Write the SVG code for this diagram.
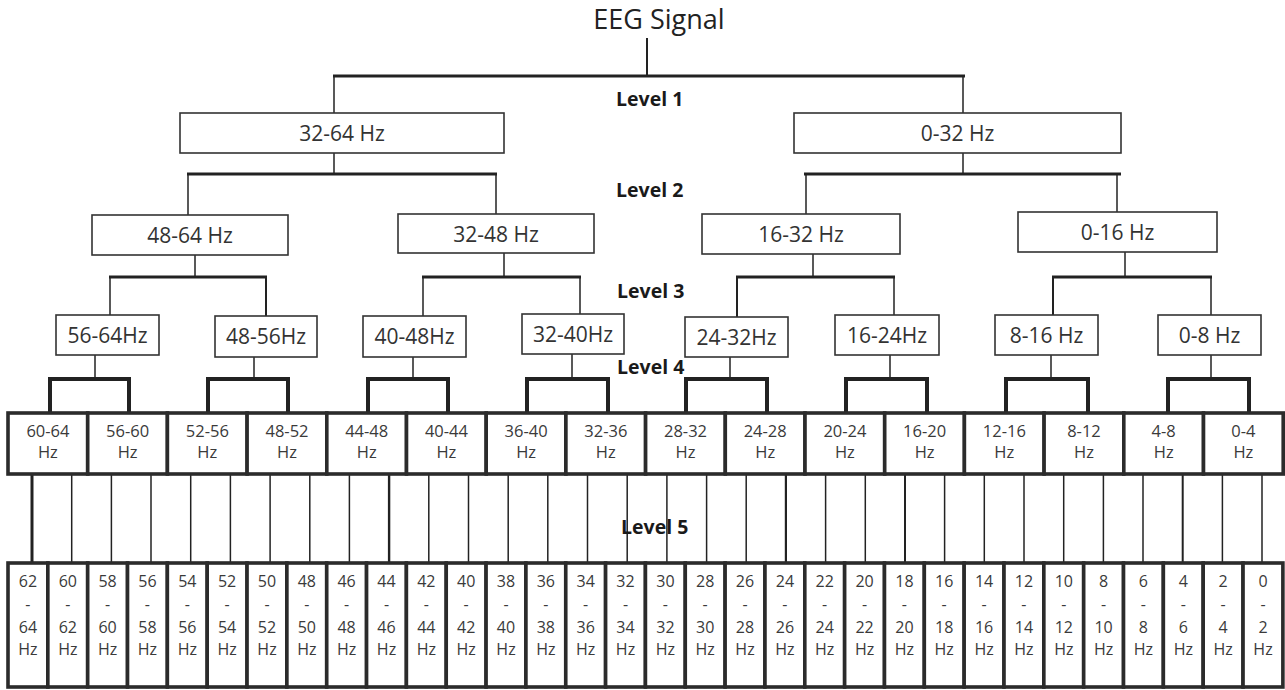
<svg xmlns="http://www.w3.org/2000/svg" width="1285" height="690" viewBox="0 0 1285 690">
<style>
.bg{fill:#fff}
.box{fill:#fff;stroke:#333;stroke-width:1.6}
.cell{fill:#fff;stroke:#2b2b2b;stroke-width:3.6}
.t{font-family:"Open Sans","Liberation Sans",sans-serif;font-size:21px;fill:#333;text-anchor:middle}
.t4{font-family:"Open Sans","Liberation Sans",sans-serif;font-size:16.5px;fill:#3a3a3a;text-anchor:middle}
.t5{font-family:"Open Sans","Liberation Sans",sans-serif;font-size:16px;fill:#3a3a3a;text-anchor:middle}
.lvl{font-family:"Open Sans","Liberation Sans",sans-serif;font-size:19.5px;font-weight:bold;fill:#1a1a1a}
.title{font-family:"Open Sans","Liberation Sans",sans-serif;font-size:27px;fill:#222;text-anchor:middle}
.thin{stroke:#222;stroke-width:1.5;fill:none}
.thick{stroke:#222;stroke-width:3;fill:none}
.bold{stroke:#222;stroke-width:4;fill:none}
</style>
<rect class="bg" x="0" y="0" width="1285" height="690"/>

<g id="connectors">
  <!-- root -->
  <line class="thin" x1="647" y1="38" x2="647" y2="76" style="stroke-width:2"/>
  <line class="thick" x1="333" y1="76" x2="965" y2="76"/>
  <line class="thin" x1="334" y1="76" x2="334" y2="113"/>
  <line class="thin" x1="963" y1="76" x2="963" y2="113"/>
  <!-- L1 to L2 -->
  <line class="thin" x1="334" y1="153" x2="334" y2="174"/>
  <line class="thick" x1="187" y1="174" x2="497" y2="174"/>
  <line class="thin" x1="188" y1="174" x2="188" y2="215"/>
  <line class="thin" x1="496" y1="174" x2="496" y2="214"/>
  <line class="thin" x1="963" y1="153" x2="963" y2="174"/>
  <line class="thick" x1="804" y1="174" x2="1121" y2="174"/>
  <line class="thin" x1="806" y1="174" x2="806" y2="214"/>
  <line class="thin" x1="1117" y1="174" x2="1117" y2="212"/>
  <!-- L2 to L3 -->
  <line class="thin" x1="195" y1="255" x2="195" y2="277"/>
  <line class="thick" x1="109" y1="277" x2="267" y2="277"/>
  <line class="thin" x1="110" y1="277" x2="110" y2="315"/>
  <line class="thin" x1="266" y1="277" x2="266" y2="316" style="stroke-width:2"/>
  <line class="thin" x1="504" y1="253" x2="504" y2="277"/>
  <line class="thick" x1="422" y1="277" x2="581" y2="277"/>
  <line class="thin" x1="423" y1="277" x2="423" y2="316"/>
  <line class="thin" x1="580" y1="277" x2="580" y2="314"/>
  <line class="thin" x1="813" y1="254" x2="813" y2="277"/>
  <line class="thick" x1="736" y1="277" x2="895" y2="277"/>
  <line class="thin" x1="737" y1="277" x2="737" y2="317" style="stroke-width:2"/>
  <line class="thin" x1="894" y1="277" x2="894" y2="315"/>
  <line class="thin" x1="1125" y1="252" x2="1125" y2="277"/>
  <line class="thick" x1="1052" y1="277" x2="1212" y2="277"/>
  <line class="thin" x1="1053" y1="277" x2="1053" y2="315" style="stroke-width:2"/>
  <line class="thin" x1="1211" y1="277" x2="1211" y2="315"/>
  <!-- L3 to L4 -->
  <line class="thin" x1="95" y1="355" x2="95" y2="379"/>
  <line class="thin" x1="254" y1="357" x2="254" y2="379"/>
  <line class="thin" x1="413" y1="357" x2="413" y2="379"/>
  <line class="thin" x1="572" y1="354" x2="572" y2="379"/>
  <line class="thin" x1="730" y1="357" x2="730" y2="379"/>
  <line class="thin" x1="890" y1="355" x2="890" y2="379"/>
  <line class="thin" x1="1051" y1="355" x2="1051" y2="379"/>
  <line class="thin" x1="1211" y1="355" x2="1211" y2="379"/>
  <path class="bold" d="M50 413V379H129V413M208 413V379H288V413M368 413V379H448V413M527 413V379H608V413M686 413V379H767V413M846 413V379H927V413M1006 413V379H1088V413M1168 413V379H1249V413"/>
  <!-- L4 to L5 -->
  <g class="thin">
    <line x1="32" y1="474" x2="32" y2="563" style="stroke-width:3"/>
    <line x1="71.7" y1="474" x2="71.7" y2="563"/>
    <line x1="111.4" y1="474" x2="111.4" y2="563"/>
    <line x1="151" y1="474" x2="151" y2="563"/>
    <line x1="190.7" y1="474" x2="190.7" y2="563"/>
    <line x1="230.4" y1="474" x2="230.4" y2="563"/>
    <line x1="270.1" y1="474" x2="270.1" y2="563"/>
    <line x1="309.8" y1="474" x2="309.8" y2="563"/>
    <line x1="349.4" y1="474" x2="349.4" y2="563"/>
    <line x1="389.1" y1="474" x2="389.1" y2="563" style="stroke-width:2.4"/>
    <line x1="428.8" y1="474" x2="428.8" y2="563"/>
    <line x1="468.5" y1="474" x2="468.5" y2="563"/>
    <line x1="508.2" y1="474" x2="508.2" y2="563"/>
    <line x1="547.8" y1="474" x2="547.8" y2="563"/>
    <line x1="587.5" y1="474" x2="587.5" y2="563"/>
    <line x1="627.2" y1="474" x2="627.2" y2="563"/>
    <line x1="666.9" y1="474" x2="666.9" y2="563"/>
    <line x1="706.6" y1="474" x2="706.6" y2="563"/>
    <line x1="746.2" y1="474" x2="746.2" y2="563"/>
    <line x1="785.9" y1="474" x2="785.9" y2="563" style="stroke-width:2.2"/>
    <line x1="825.6" y1="474" x2="825.6" y2="563"/>
    <line x1="865.3" y1="474" x2="865.3" y2="563"/>
    <line x1="905" y1="474" x2="905" y2="563" style="stroke-width:2"/>
    <line x1="944.6" y1="474" x2="944.6" y2="563"/>
    <line x1="984.3" y1="474" x2="984.3" y2="563"/>
    <line x1="1024" y1="474" x2="1024" y2="563"/>
    <line x1="1063.7" y1="474" x2="1063.7" y2="563"/>
    <line x1="1103.4" y1="474" x2="1103.4" y2="563"/>
    <line x1="1143" y1="474" x2="1143" y2="563"/>
    <line x1="1182.7" y1="474" x2="1182.7" y2="563" style="stroke-width:2"/>
    <line x1="1222.4" y1="474" x2="1222.4" y2="563"/>
    <line x1="1262" y1="474" x2="1262" y2="563"/>
  </g>
</g>

<g id="root"><text class="title" x="659" y="29">EEG Signal</text></g>

<g id="levels">
  <text class="lvl" x="616" y="106">Level 1</text>
  <text class="lvl" x="616" y="197">Level 2</text>
  <text class="lvl" x="617" y="298">Level 3</text>
  <text class="lvl" x="617" y="374">Level 4</text>
  <text class="lvl" x="621" y="534">Level 5</text>
</g>

<g id="n-32-64"><rect class="box" x="180" y="113" width="324" height="40"/><text class="t" x="342" y="141">32-64 Hz</text></g>
<g id="n-0-32"><rect class="box" x="794" y="113" width="327" height="40"/><text class="t" x="957.5" y="141">0-32 Hz</text></g>

<g id="n-48-64"><rect class="box" x="92" y="215" width="196" height="40"/><text class="t" x="190" y="243">48-64 Hz</text></g>
<g id="n-32-48"><rect class="box" x="398" y="214" width="196" height="39"/><text class="t" x="496" y="242">32-48 Hz</text></g>
<g id="n-16-32"><rect class="box" x="702" y="214" width="198" height="40"/><text class="t" x="801" y="242">16-32 Hz</text></g>
<g id="n-0-16"><rect class="box" x="1018" y="212" width="199" height="40"/><text class="t" x="1117.5" y="240">0-16 Hz</text></g>

<g id="n-56-64"><rect class="box" x="56" y="315" width="103" height="40"/><text class="t" x="107.5" y="343">56-64Hz</text></g>
<g id="n-48-56"><rect class="box" x="215" y="316" width="102" height="41"/><text class="t" x="266" y="344">48-56Hz</text></g>
<g id="n-40-48"><rect class="box" x="363" y="316" width="103" height="41"/><text class="t" x="414.5" y="344">40-48Hz</text></g>
<g id="n-32-40"><rect class="box" x="522" y="314" width="102" height="40"/><text class="t" x="573" y="342">32-40Hz</text></g>
<g id="n-24-32"><rect class="box" x="685" y="317" width="103" height="40"/><text class="t" x="736.5" y="345">24-32Hz</text></g>
<g id="n-16-24"><rect class="box" x="835" y="315" width="104" height="40"/><text class="t" x="887" y="343">16-24Hz</text></g>
<g id="n-8-16"><rect class="box" x="995" y="315" width="103" height="40"/><text class="t" x="1046.5" y="343">8-16 Hz</text></g>
<g id="n-0-8"><rect class="box" x="1158" y="315" width="103" height="40"/><text class="t" x="1209.5" y="343">0-8 Hz</text></g>

<g id="level4">
  <g id="n4-60-64"><rect class="cell" x="8" y="413" width="79.7" height="61"/><text class="t4" x="47.9" y="437">60-64</text><text class="t4" x="47.9" y="458">Hz</text></g>
  <g id="n4-56-60"><rect class="cell" x="87.7" y="413" width="79.7" height="61"/><text class="t4" x="127.6" y="437">56-60</text><text class="t4" x="127.6" y="458">Hz</text></g>
  <g id="n4-52-56"><rect class="cell" x="167.4" y="413" width="79.7" height="61"/><text class="t4" x="207.3" y="437">52-56</text><text class="t4" x="207.3" y="458">Hz</text></g>
  <g id="n4-48-52"><rect class="cell" x="247.1" y="413" width="79.7" height="61"/><text class="t4" x="287" y="437">48-52</text><text class="t4" x="287" y="458">Hz</text></g>
  <g id="n4-44-48"><rect class="cell" x="326.8" y="413" width="79.7" height="61"/><text class="t4" x="366.7" y="437">44-48</text><text class="t4" x="366.7" y="458">Hz</text></g>
  <g id="n4-40-44"><rect class="cell" x="406.5" y="413" width="79.7" height="61"/><text class="t4" x="446.4" y="437">40-44</text><text class="t4" x="446.4" y="458">Hz</text></g>
  <g id="n4-36-40"><rect class="cell" x="486.2" y="413" width="79.7" height="61"/><text class="t4" x="526.1" y="437">36-40</text><text class="t4" x="526.1" y="458">Hz</text></g>
  <g id="n4-32-36"><rect class="cell" x="565.9" y="413" width="79.7" height="61"/><text class="t4" x="605.8" y="437">32-36</text><text class="t4" x="605.8" y="458">Hz</text></g>
  <g id="n4-28-32"><rect class="cell" x="645.6" y="413" width="79.7" height="61"/><text class="t4" x="685.5" y="437">28-32</text><text class="t4" x="685.5" y="458">Hz</text></g>
  <g id="n4-24-28"><rect class="cell" x="725.3" y="413" width="79.7" height="61"/><text class="t4" x="765.2" y="437">24-28</text><text class="t4" x="765.2" y="458">Hz</text></g>
  <g id="n4-20-24"><rect class="cell" x="805" y="413" width="79.7" height="61"/><text class="t4" x="844.9" y="437">20-24</text><text class="t4" x="844.9" y="458">Hz</text></g>
  <g id="n4-16-20"><rect class="cell" x="884.7" y="413" width="79.7" height="61"/><text class="t4" x="924.6" y="437">16-20</text><text class="t4" x="924.6" y="458">Hz</text></g>
  <g id="n4-12-16"><rect class="cell" x="964.4" y="413" width="79.7" height="61"/><text class="t4" x="1004.3" y="437">12-16</text><text class="t4" x="1004.3" y="458">Hz</text></g>
  <g id="n4-8-12"><rect class="cell" x="1044.1" y="413" width="79.7" height="61"/><text class="t4" x="1084" y="437">8-12</text><text class="t4" x="1084" y="458">Hz</text></g>
  <g id="n4-4-8"><rect class="cell" x="1123.8" y="413" width="79.7" height="61"/><text class="t4" x="1163.7" y="437">4-8</text><text class="t4" x="1163.7" y="458">Hz</text></g>
  <g id="n4-0-4"><rect class="cell" x="1203.5" y="413" width="79.7" height="61"/><text class="t4" x="1243.4" y="437">0-4</text><text class="t4" x="1243.4" y="458">Hz</text></g>
</g>

<g id="level5">
  <g id="n5-62-64"><rect class="cell" x="8" y="563" width="39.84" height="124"/><text class="t5" x="27.9" y="587">62</text><text class="t5" x="27.9" y="610">-</text><text class="t5" x="27.9" y="633">64</text><text class="t5" x="27.9" y="655">Hz</text></g>
  <g id="n5-60-62"><rect class="cell" x="47.84" y="563" width="39.84" height="124"/><text class="t5" x="67.8" y="587">60</text><text class="t5" x="67.8" y="610">-</text><text class="t5" x="67.8" y="633">62</text><text class="t5" x="67.8" y="655">Hz</text></g>
  <g id="n5-58-60"><rect class="cell" x="87.68" y="563" width="39.84" height="124"/><text class="t5" x="107.6" y="587">58</text><text class="t5" x="107.6" y="610">-</text><text class="t5" x="107.6" y="633">60</text><text class="t5" x="107.6" y="655">Hz</text></g>
  <g id="n5-56-58"><rect class="cell" x="127.52" y="563" width="39.84" height="124"/><text class="t5" x="147.4" y="587">56</text><text class="t5" x="147.4" y="610">-</text><text class="t5" x="147.4" y="633">58</text><text class="t5" x="147.4" y="655">Hz</text></g>
  <g id="n5-54-56"><rect class="cell" x="167.36" y="563" width="39.84" height="124"/><text class="t5" x="187.3" y="587">54</text><text class="t5" x="187.3" y="610">-</text><text class="t5" x="187.3" y="633">56</text><text class="t5" x="187.3" y="655">Hz</text></g>
  <g id="n5-52-54"><rect class="cell" x="207.2" y="563" width="39.84" height="124"/><text class="t5" x="227.1" y="587">52</text><text class="t5" x="227.1" y="610">-</text><text class="t5" x="227.1" y="633">54</text><text class="t5" x="227.1" y="655">Hz</text></g>
  <g id="n5-50-52"><rect class="cell" x="247.04" y="563" width="39.84" height="124"/><text class="t5" x="267" y="587">50</text><text class="t5" x="267" y="610">-</text><text class="t5" x="267" y="633">52</text><text class="t5" x="267" y="655">Hz</text></g>
  <g id="n5-48-50"><rect class="cell" x="286.88" y="563" width="39.84" height="124"/><text class="t5" x="306.8" y="587">48</text><text class="t5" x="306.8" y="610">-</text><text class="t5" x="306.8" y="633">50</text><text class="t5" x="306.8" y="655">Hz</text></g>
  <g id="n5-46-48"><rect class="cell" x="326.72" y="563" width="39.84" height="124"/><text class="t5" x="346.6" y="587">46</text><text class="t5" x="346.6" y="610">-</text><text class="t5" x="346.6" y="633">48</text><text class="t5" x="346.6" y="655">Hz</text></g>
  <g id="n5-44-46"><rect class="cell" x="366.56" y="563" width="39.84" height="124"/><text class="t5" x="386.5" y="587">44</text><text class="t5" x="386.5" y="610">-</text><text class="t5" x="386.5" y="633">46</text><text class="t5" x="386.5" y="655">Hz</text></g>
  <g id="n5-42-44"><rect class="cell" x="406.4" y="563" width="39.84" height="124"/><text class="t5" x="426.3" y="587">42</text><text class="t5" x="426.3" y="610">-</text><text class="t5" x="426.3" y="633">44</text><text class="t5" x="426.3" y="655">Hz</text></g>
  <g id="n5-40-42"><rect class="cell" x="446.24" y="563" width="39.84" height="124"/><text class="t5" x="466.2" y="587">40</text><text class="t5" x="466.2" y="610">-</text><text class="t5" x="466.2" y="633">42</text><text class="t5" x="466.2" y="655">Hz</text></g>
  <g id="n5-38-40"><rect class="cell" x="486.08" y="563" width="39.84" height="124"/><text class="t5" x="506" y="587">38</text><text class="t5" x="506" y="610">-</text><text class="t5" x="506" y="633">40</text><text class="t5" x="506" y="655">Hz</text></g>
  <g id="n5-36-38"><rect class="cell" x="525.92" y="563" width="39.84" height="124"/><text class="t5" x="545.8" y="587">36</text><text class="t5" x="545.8" y="610">-</text><text class="t5" x="545.8" y="633">38</text><text class="t5" x="545.8" y="655">Hz</text></g>
  <g id="n5-34-36"><rect class="cell" x="565.76" y="563" width="39.84" height="124"/><text class="t5" x="585.7" y="587">34</text><text class="t5" x="585.7" y="610">-</text><text class="t5" x="585.7" y="633">36</text><text class="t5" x="585.7" y="655">Hz</text></g>
  <g id="n5-32-34"><rect class="cell" x="605.6" y="563" width="39.84" height="124"/><text class="t5" x="625.5" y="587">32</text><text class="t5" x="625.5" y="610">-</text><text class="t5" x="625.5" y="633">34</text><text class="t5" x="625.5" y="655">Hz</text></g>
  <g id="n5-30-32"><rect class="cell" x="645.44" y="563" width="39.84" height="124"/><text class="t5" x="665.4" y="587">30</text><text class="t5" x="665.4" y="610">-</text><text class="t5" x="665.4" y="633">32</text><text class="t5" x="665.4" y="655">Hz</text></g>
  <g id="n5-28-30"><rect class="cell" x="685.28" y="563" width="39.84" height="124"/><text class="t5" x="705.2" y="587">28</text><text class="t5" x="705.2" y="610">-</text><text class="t5" x="705.2" y="633">30</text><text class="t5" x="705.2" y="655">Hz</text></g>
  <g id="n5-26-28"><rect class="cell" x="725.12" y="563" width="39.84" height="124"/><text class="t5" x="745" y="587">26</text><text class="t5" x="745" y="610">-</text><text class="t5" x="745" y="633">28</text><text class="t5" x="745" y="655">Hz</text></g>
  <g id="n5-24-26"><rect class="cell" x="764.96" y="563" width="39.84" height="124"/><text class="t5" x="784.9" y="587">24</text><text class="t5" x="784.9" y="610">-</text><text class="t5" x="784.9" y="633">26</text><text class="t5" x="784.9" y="655">Hz</text></g>
  <g id="n5-22-24"><rect class="cell" x="804.8" y="563" width="39.84" height="124"/><text class="t5" x="824.7" y="587">22</text><text class="t5" x="824.7" y="610">-</text><text class="t5" x="824.7" y="633">24</text><text class="t5" x="824.7" y="655">Hz</text></g>
  <g id="n5-20-22"><rect class="cell" x="844.64" y="563" width="39.84" height="124"/><text class="t5" x="864.6" y="587">20</text><text class="t5" x="864.6" y="610">-</text><text class="t5" x="864.6" y="633">22</text><text class="t5" x="864.6" y="655">Hz</text></g>
  <g id="n5-18-20"><rect class="cell" x="884.48" y="563" width="39.84" height="124"/><text class="t5" x="904.4" y="587">18</text><text class="t5" x="904.4" y="610">-</text><text class="t5" x="904.4" y="633">20</text><text class="t5" x="904.4" y="655">Hz</text></g>
  <g id="n5-16-18"><rect class="cell" x="924.32" y="563" width="39.84" height="124"/><text class="t5" x="944.2" y="587">16</text><text class="t5" x="944.2" y="610">-</text><text class="t5" x="944.2" y="633">18</text><text class="t5" x="944.2" y="655">Hz</text></g>
  <g id="n5-14-16"><rect class="cell" x="964.16" y="563" width="39.84" height="124"/><text class="t5" x="984.1" y="587">14</text><text class="t5" x="984.1" y="610">-</text><text class="t5" x="984.1" y="633">16</text><text class="t5" x="984.1" y="655">Hz</text></g>
  <g id="n5-12-14"><rect class="cell" x="1004" y="563" width="39.84" height="124"/><text class="t5" x="1023.9" y="587">12</text><text class="t5" x="1023.9" y="610">-</text><text class="t5" x="1023.9" y="633">14</text><text class="t5" x="1023.9" y="655">Hz</text></g>
  <g id="n5-10-12"><rect class="cell" x="1043.84" y="563" width="39.84" height="124"/><text class="t5" x="1063.8" y="587">10</text><text class="t5" x="1063.8" y="610">-</text><text class="t5" x="1063.8" y="633">12</text><text class="t5" x="1063.8" y="655">Hz</text></g>
  <g id="n5-8-10"><rect class="cell" x="1083.68" y="563" width="39.84" height="124"/><text class="t5" x="1103.6" y="587">8</text><text class="t5" x="1103.6" y="610">-</text><text class="t5" x="1103.6" y="633">10</text><text class="t5" x="1103.6" y="655">Hz</text></g>
  <g id="n5-6-8"><rect class="cell" x="1123.52" y="563" width="39.84" height="124"/><text class="t5" x="1143.4" y="587">6</text><text class="t5" x="1143.4" y="610">-</text><text class="t5" x="1143.4" y="633">8</text><text class="t5" x="1143.4" y="655">Hz</text></g>
  <g id="n5-4-6"><rect class="cell" x="1163.36" y="563" width="39.84" height="124"/><text class="t5" x="1183.3" y="587">4</text><text class="t5" x="1183.3" y="610">-</text><text class="t5" x="1183.3" y="633">6</text><text class="t5" x="1183.3" y="655">Hz</text></g>
  <g id="n5-2-4"><rect class="cell" x="1203.2" y="563" width="39.84" height="124"/><text class="t5" x="1223.1" y="587">2</text><text class="t5" x="1223.1" y="610">-</text><text class="t5" x="1223.1" y="633">4</text><text class="t5" x="1223.1" y="655">Hz</text></g>
  <g id="n5-0-2"><rect class="cell" x="1243.04" y="563" width="39.84" height="124"/><text class="t5" x="1263" y="587">0</text><text class="t5" x="1263" y="610">-</text><text class="t5" x="1263" y="633">2</text><text class="t5" x="1263" y="655">Hz</text></g>
</g>
</svg>
